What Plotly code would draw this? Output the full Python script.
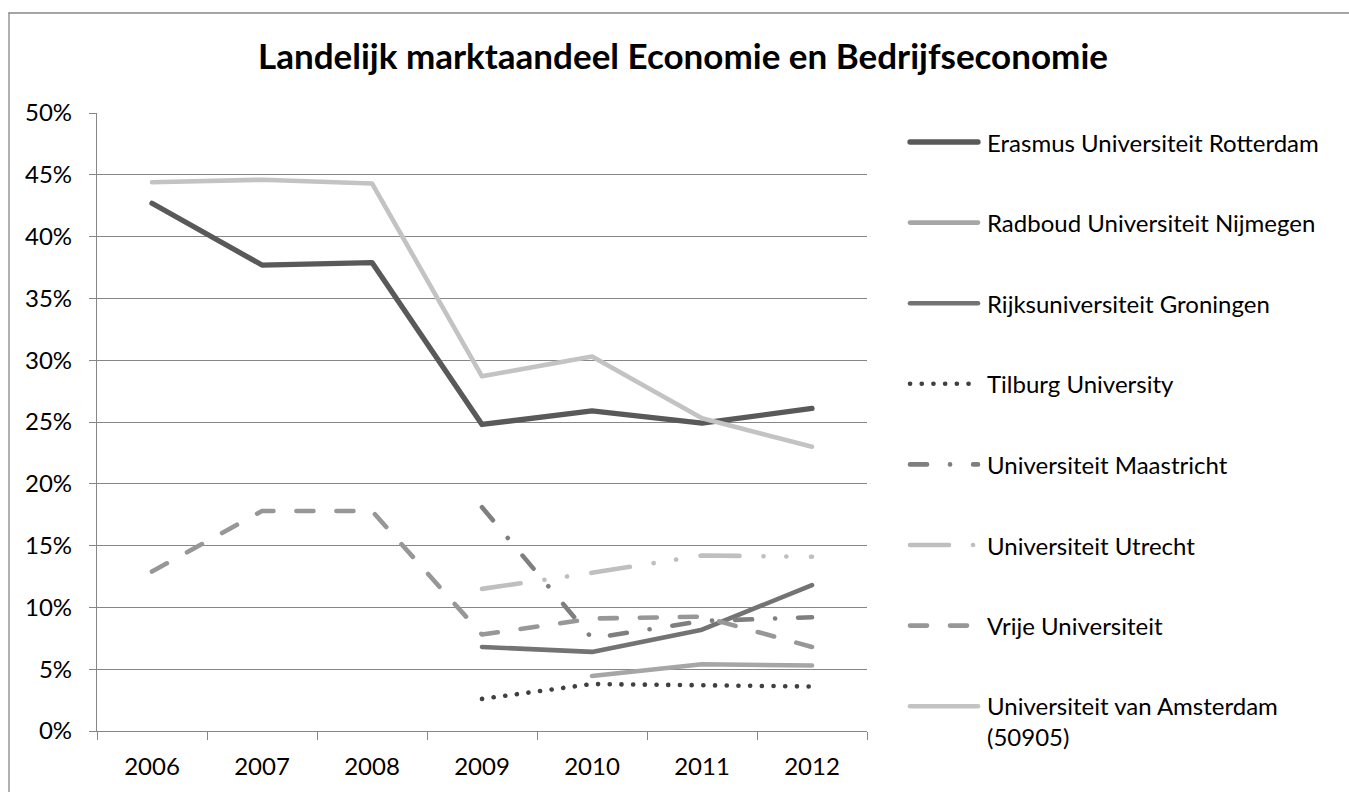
import plotly.graph_objects as go

# ---------------- data ----------------
years = ["2006", "2007", "2008", "2009", "2010", "2011", "2012"]

series_names = [
    "Erasmus Universiteit Rotterdam",
    "Radboud Universiteit Nijmegen",
    "Rijksuniversiteit Groningen",
    "Tilburg University",
    "Universiteit Maastricht",
    "Universiteit Utrecht",
    "Vrije Universiteit",
    "Universiteit van Amsterdam<br>(50905)",
]

erasmus = [42.7, 37.7, 37.9, 24.8, 25.9, 24.9, 26.1]
radboud = [None, None, None, None, 4.45, 5.4, 5.3]
groningen = [None, None, None, 6.8, 6.4, 8.2, 11.8]
tilburg = [None, None, None, 2.6, 3.8, 3.7, 3.6]
maastricht = [None, None, None, 18.1, 7.5, 8.9, 9.2]
utrecht = [None, None, None, 11.5, 12.8, 14.2, 14.1]
vrije = [12.9, 17.8, 17.8, 7.8, 9.1, 9.25, 6.8]
amsterdam = [44.4, 44.6, 44.3, 28.7, 30.3, 25.3, 23.0]

values = [erasmus, radboud, groningen, tilburg, maastricht, utrecht, vrije, amsterdam]

# ---------------- styles ----------------
colors = ["#595959", "#A6A6A6", "#737373", "#404040", "#7F7F7F", "#BFBFBF", "#979797", "#C3C3C3"]
widths = [5.3, 4.6, 4.6, 4.6, 4.6, 4.6, 4.6, 4.6]
dashes = [
    "solid",
    "solid",
    "solid",
    "0.1px,11.6px",
    "17px,23px,0.1px,23px",
    "39px,24px,0.1px,22.7px,0.1px,24.6px",
    "17px,23px",
    "solid",
]

W, H = 1349, 792
PL, PR, PT, PB = 97, 867, 113, 731
FONT = "Lato"
GRID = "#868686"


def pxx(x):
    return (x - PL) / (PR - PL)


def pxy(y):
    return (PB - y) / (PB - PT)


fig = go.Figure()
for name, vals, c, w, d in zip(series_names, values, colors, widths, dashes):
    fig.add_trace(
        go.Scatter(
            x=years,
            y=[None if v is None else v / 100 for v in vals],
            mode="lines",
            name=name,
            line=dict(color=c, width=w, dash=d),
            connectgaps=False,
            showlegend=False,
            hoverinfo="skip",
        )
    )

shapes = []
annotations = []

# custom legend (Excel style long samples, wide spacing)
leg_top = 142
leg_step = 80.6
for i, (name, c, w, d) in enumerate(zip(series_names, colors, widths, dashes)):
    yy = leg_top + i * leg_step
    shapes.append(
        dict(
            type="line", xref="paper", yref="paper",
            x0=pxx(910), x1=pxx(978), y0=pxy(yy), y1=pxy(yy),
            line=dict(color=c, width=w, dash=d),
        )
    )
    if "<br>" in name:
        annotations.append(
            dict(
                xref="paper", yref="paper", x=pxx(985), y=pxy(yy - 17),
                xanchor="left", yanchor="top", text=name, showarrow=False,
                align="left", font=dict(family=FONT, size=24, color="#000"),
            )
        )
    else:
        annotations.append(
            dict(
                xref="paper", yref="paper", x=pxx(985), y=pxy(yy),
                xanchor="left", yanchor="middle", text=name, showarrow=False,
                align="left", font=dict(family=FONT, size=24, color="#000"),
            )
        )

# chart-area border (top and left edges visible)
shapes.append(dict(type="line", xref="paper", yref="paper",
                   x0=pxx(9), x1=pxx(W + 5), y0=pxy(13), y1=pxy(13),
                   line=dict(color=GRID, width=1.3)))
shapes.append(dict(type="line", xref="paper", yref="paper",
                   x0=pxx(9), x1=pxx(9), y0=pxy(13), y1=pxy(H + 5),
                   line=dict(color=GRID, width=1.3)))

fig.update_layout(
    width=W,
    height=H,
    margin=dict(l=PL, r=W - PR, t=PT, b=H - PB, pad=0),
    paper_bgcolor="white",
    plot_bgcolor="white",
    font=dict(family=FONT, size=24, color="#000"),
    title=dict(
        text="<b>Landelijk marktaandeel Economie en Bedrijfseconomie</b>",
        x=683 / W, xanchor="center", xref="container",
        y=1 - 57 / H, yanchor="middle", yref="container",
        font=dict(family=FONT, size=35, color="#000"),
    ),
    shapes=shapes,
    annotations=annotations,
    showlegend=False,
)

fig.update_xaxes(
    type="category",
    categoryorder="array",
    categoryarray=years,
    range=[-0.5, 6.5],
    tickson="boundaries",
    ticks="outside",
    ticklen=8,
    tickwidth=1.3,
    tickcolor=GRID,
    showline=True,
    linecolor=GRID,
    linewidth=1.3,
    showgrid=False,
    zeroline=False,
    tickfont=dict(family=FONT, size=24, color="#000"),
    ticklabelstandoff=14,
)

fig.update_yaxes(
    range=[0, 0.5],
    dtick=0.05,
    tick0=0,
    tickformat=".0%",
    ticks="outside",
    ticklen=7,
    tickwidth=1.3,
    tickcolor=GRID,
    showline=True,
    linecolor=GRID,
    linewidth=1.3,
    showgrid=True,
    gridcolor=GRID,
    gridwidth=1.3,
    zeroline=False,
    tickfont=dict(family=FONT, size=24, color="#000"),
    ticklabelstandoff=12,
)

post = (
    "document.body.style.margin='0';"
    "document.querySelectorAll('path.js-line, .shapelayer path').forEach(function(p){"
    "p.style.strokeLinecap='round';p.style.strokeLinejoin='round';});"
)

fig.write_html("out.html", post_script=post, config={"displayModeBar": False})
